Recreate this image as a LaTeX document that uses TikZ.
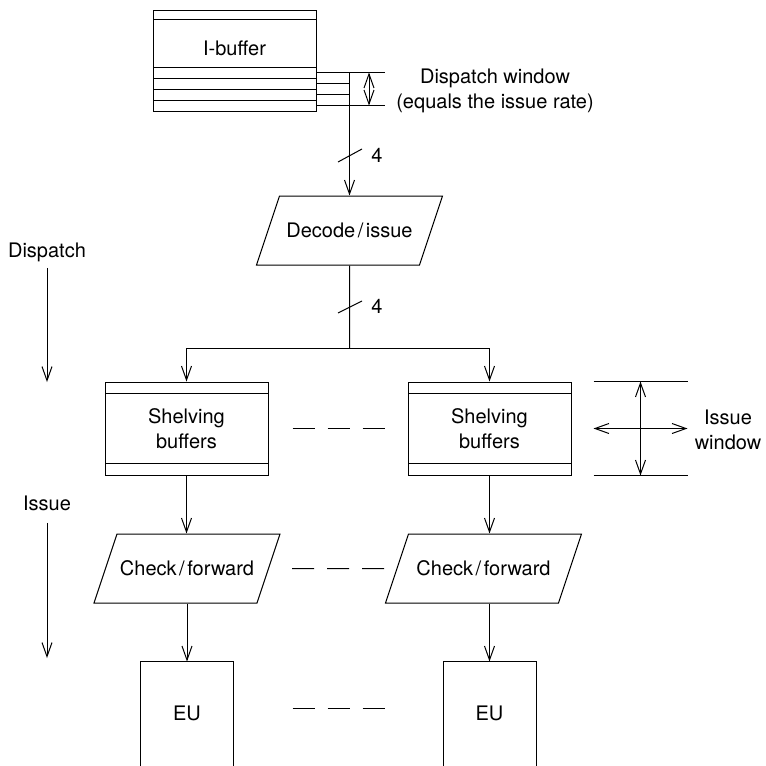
\documentclass[tikz,border=0pt]{standalone}
\usepackage{fontspec}
\setmainfont{TeX Gyre Heros}
\usetikzlibrary{arrows.meta,shapes.geometric}

\begin{document}
\begin{tikzpicture}[x=1pt,y=1pt,yscale=-1,xscale=1,
  line width=1pt,
  every node/.style={inner sep=0pt},
  font=\fontsize{20}{25}\selectfont,
  tip/.style={-{Straight Barb[length=14pt,width=10pt]}},
  twotip/.style={{Straight Barb[length=14pt,width=10pt]}-{Straight Barb[length=14pt,width=10pt]}},
  buf/.style={draw, minimum width=163pt},
  slant/.style={draw, trapezium, trapezium left angle=71.57, trapezium right angle=108.43,
    trapezium stretches body, text height=14pt, text depth=0pt, inner ysep=27.5pt, inner xsep=0pt},
  gap/.style={dash pattern=on 22pt off 13pt}]
\clip (0,0) rectangle (766,766);

\node [buf, minimum height=101pt] (ibuf) at (234.5,60.5) {};
\node (ibuftext) at (234.5,48.5) {I-buffer};
\draw (153,19) -- (316,19) ;
\draw (153,67) -- (316,67) ;
\draw (153,78) -- (316,78) ;
\draw (153,89) -- (316,89) ;
\draw (153,100) -- (316,100) ;

\coordinate (s1) at (316,72.5);
\coordinate (s2) at (316,83.5);
\coordinate (s3) at (316,94.5);
\coordinate (s4) at (316,105.5);
\coordinate (w1) at (385,72.5);
\coordinate (w4) at (385,105.5);

\node [slant, minimum width=186pt] (decode) at (349.5,230.5) {Decode\kern2.5pt/\kern2.5pt issue};

\draw (s1) -- (w1) ;
\draw (s4) -- (w4) ;
\draw (s2) -- (s2 -| decode.north) ;
\draw (s3) -- (s3 -| decode.north) ;
\draw [tip] (s1 -| decode.north) -- (decode.north) ;
\draw [twotip] ([xshift=-16pt]w1) -- ([xshift=-16pt]w4) ;
\node [align=center] (dwin) at (495,91) {Dispatch window\\(equals the issue rate)};

\draw (338,162) -- (362,149) ;
\node (n1) at (377,155) {4};

\node [buf, minimum height=93pt, align=center] (shelfA) at (186.5,428.5) {Shelving\\buffers};
\node [buf, minimum height=93pt, align=center] (shelfB) at (489.5,428.5) {Shelving\\buffers};
\draw (105,393) -- (268,393) ;
\draw (105,463) -- (268,463) ;
\draw (408,393) -- (571,393) ;
\draw (408,463) -- (571,463) ;

\coordinate (fork) at (349.5,348);
\draw (decode.south) -- (fork) ;
\draw [tip] (fork) -| (shelfA.north) ;
\draw [tip] (fork) -| (shelfB.north) ;
\draw (338,313) -- (362,301) ;
\node (n2) at (377,306) {4};

\draw [gap] ([xshift=24pt]shelfA.east) -- ([xshift=-23pt]shelfB.west) ;

\draw ([xshift=22pt]shelfB.north east) -- ++(94,0) ;
\draw ([xshift=22pt]shelfB.south east) -- ++(94,0) ;
\draw [twotip] ([xshift=69pt]shelfB.north east) -- ([xshift=69pt]shelfB.south east) ;
\draw [twotip] ([xshift=22pt]shelfB.east) -- ([xshift=116pt]shelfB.east) ;
\node [align=center] (iwin) at (728,430) {Issue\\window};

\node [slant, minimum width=186pt] (checkA) at (187,568.5) {Check\kern2.5pt/\kern2.5pt forward};
\node [slant, minimum width=196pt] (checkB) at (483.5,568.5) {Check\kern2.5pt/\kern2.5pt forward};
\draw [tip] (shelfA.south) -- (shelfA.south |- checkA.north) ;
\draw [tip] (shelfB.south) -- (shelfB.south |- checkB.north) ;
\draw [gap] ([xshift=23pt]checkA.east) -- ([xshift=-12pt]checkB.west) ;

\node [minimum width=92pt, minimum height=102pt] (euA) at (187,713) {EU};
\node [minimum width=92pt, minimum height=102pt] (euB) at (489.5,713) {EU};
\draw ([yshift=10pt]euA.south west) |- (euA.north east) -- ([yshift=10pt]euA.south east) ;
\draw ([yshift=10pt]euB.south west) |- (euB.north east) -- ([yshift=10pt]euB.south east) ;
\draw [tip] (euA.north |- checkA.south) -- (euA.north) ;
\draw [tip] (euB.north |- checkB.south) -- (euB.north) ;
\draw [gap] ([shift={(59,-5)}]euA.east) -- ([shift={(-58,-5)}]euB.west) ;

\node (dispatch) at (47,252) {Dispatch};
\coordinate (dispend) at (47,382);
\draw [tip] ([yshift=6pt]dispatch.south) -- (dispend) ;
\node (issue) at (47,503) {Issue};
\coordinate (issueend) at (47,658);
\draw [tip] ([yshift=12pt]issue.south) -- (issueend) ;
\end{tikzpicture}
\end{document}
